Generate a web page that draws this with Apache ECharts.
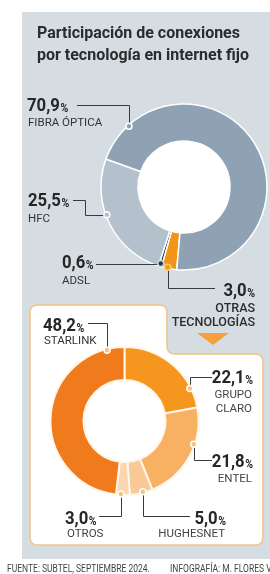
<!DOCTYPE html>
<html><head><meta charset="utf-8">
<script src="https://cdn.jsdelivr.net/npm/echarts@6/dist/echarts.min.js"></script>
<style>html,body{margin:0;padding:0;background:#fff}#c{width:270px;height:574px}</style>
</head><body><div id="c"></div>
<script>
// ---------- DATA ----------
const titleLines = ['Participación de conexiones', 'por tecnología en internet fijo'];
const techCategories = ['OTRAS\nTECNOLOGÍAS', 'ADSL', 'HFC', 'FIBRA ÓPTICA'];
const techValues = [3.0, 0.6, 25.5, 70.9];
const otherCategories = ['GRUPO\nCLARO', 'ENTEL', 'HUGHESNET', 'OTROS', 'STARLINK'];
const otherValues = [22.1, 21.8, 5.0, 3.0, 48.2];
const sourceText = 'FUENTE: SUBTEL, SEPTIEMBRE 2024.';
const creditText = 'INFOGRAFÍA: M. FLORES V.';

// ---------- STYLE / LAYOUT ----------
const techColors = ['#f29418', '#1f3b4f', '#b4c1cc', '#8fa2b4'];
const otherColors = ['#f5961e', '#f8b062', '#fac998', '#fbd6b0', '#ef7b1c'];
const P1 = {cx: 184, cy: 187, r0: 46, r1: 83, start: 265};
const P2 = {cx: 124.5, cy: 421, r0: 41, r1: 74, start: 90};
const PANEL = '#d5dde3', INK = '#262626', LINE = '#3a3a3a';

const ctx = document.createElement('canvas').getContext('2d');
function tw(t, f) { ctx.font = f; return ctx.measureText(t).width; }
const NUM_FONT = 'bold 19px Roboto', PCT_FONT = 'bold 12px Roboto', SX = 0.88;
const SUB_FONT = '11.5px Roboto';
function fmt(v) { return v.toFixed(1).replace('.', ','); }

function txt(x, base, text, font, size, fill, sx, align) {
  return {type: 'text', x: x, y: base - 0.34 * size, scaleX: sx || 1, z: 100, silent: true,
    style: {text: text, font: font, fill: fill, align: align || 'left', verticalAlign: 'middle'}};
}
function numberLabel(x, base, val, align) {
  const n = fmt(val);
  const wn = tw(n, NUM_FONT) * SX, wp = tw('%', PCT_FONT) * SX;
  const left = align === 'left' ? x : x - wn - wp - 0.5;
  return [txt(left, base, n, NUM_FONT, 19, INK, SX), txt(left + wn + 0.5, base, '%', PCT_FONT, 12, INK, SX)];
}
function subLabel(x, base, lines, align, font, size, fill) {
  return lines.map((l, i) => txt(x, base + i * 14.5, l, font || SUB_FONT, size || 11.5, fill || '#333', 1, align));
}
function line(pts) {
  return {type: 'polyline', z: 99, silent: true, shape: {points: pts}, style: {stroke: LINE, lineWidth: 1, fill: null}};
}
function dot(p, fill, stroke) {
  return {type: 'circle', z: 101, silent: true, shape: {cx: p[0], cy: p[1], r: 3}, style: {fill: fill, stroke: stroke, lineWidth: 1.5}};
}
// rounded polygon outline (decoration)
function roundPoly(v, r) {
  const out = [];
  for (let i = 0; i < v.length; i++) {
    const p = v[(i + v.length - 1) % v.length], c = v[i], n = v[(i + 1) % v.length];
    const d1 = Math.hypot(p[0] - c[0], p[1] - c[1]), d2 = Math.hypot(n[0] - c[0], n[1] - c[1]);
    const s = [c[0] + (p[0] - c[0]) / d1 * r, c[1] + (p[1] - c[1]) / d1 * r];
    const e = [c[0] + (n[0] - c[0]) / d2 * r, c[1] + (n[1] - c[1]) / d2 * r];
    for (let k = 0; k <= 6; k++) {
      const t = k / 6, u = 1 - t;
      out.push([u * u * s[0] + 2 * u * t * c[0] + t * t * e[0], u * u * s[1] + 2 * u * t * c[1] + t * t * e[1]]);
    }
  }
  return out;
}
// anchor on a slice edge, computed from the data
function anchor(P, values, idx, frac, rr) {
  const total = values.reduce((a, b) => a + b, 0);
  let acc = 0; for (let i = 0; i < idx; i++) acc += values[i];
  const a0 = P.start - acc / total * 360;
  const a1 = a0 - values[idx] / total * 360;
  const a = (a0 + (a1 - a0) * frac) * Math.PI / 180;
  const r = rr || (P.r1 - 1);
  return [P.cx + r * Math.cos(a), P.cy - r * Math.sin(a)];
}

const g = [];
// panel + box
g.push({type: 'rect', z: -10, silent: true, shape: {x: 22, y: 12, width: 260, height: 547}, style: {fill: PANEL}});
g.push({type: 'circle', z: -5, silent: true, shape: {cx: P1.cx, cy: P1.cy, r: P1.r0}, style: {fill: '#fff'}});
g.push({type: 'polygon', z: -5, silent: true,
  shape: {points: roundPoly([[30, 305], [167, 305], [167, 354], [263, 354], [263, 545], [30, 545]], 8)},
  style: {fill: '#fff', stroke: '#f2c282', lineWidth: 1.5}});
g.push({type: 'polygon', z: 100, silent: true, shape: {points: [[197, 333], [229, 333], [213, 345]]}, style: {fill: '#f4a03c'}});

// title
titleLines.forEach((t, i) => g.push(txt(37, 40 + i * 21.5, t, 'bold 17px Roboto', 17, '#2b2b2b', 0.94)));

// ---- donut 1 labels ----
let a = anchor(P1, techValues, 3, 0.11);
g.push(...numberLabel(27, 113, techValues[3], 'left'));
g.push(...subLabel(28, 127, [techCategories[3]]));
g.push(line([[77, 105.5], [Math.round(a[0]) + 0.5, 105.5], [Math.round(a[0]) + 0.5, a[1]]]));
g.push(dot(a, techColors[3], '#fff'));

a = anchor(P1, techValues, 2, 0.57);
g.push(...numberLabel(28, 208, techValues[2], 'left'));
g.push(...subLabel(28, 223, [techCategories[2]]));
g.push(line([[73, 200.5], [85.5, 200.5], [85.5, Math.round(a[1]) + 0.5], [a[0], Math.round(a[1]) + 0.5]]));
g.push(dot(a, techColors[2], '#fff'));

a = anchor(P1, techValues, 1, 0.5, 80);
g.push(...numberLabel(62, 270, techValues[1], 'left'));
g.push(...subLabel(62, 285, [techCategories[1]]));
g.push(line([[96, Math.round(a[1]) + 0.5], [a[0], Math.round(a[1]) + 0.5]]));
g.push(dot(a, techColors[1], '#cfd8df'));

a = anchor(P1, techValues, 0, 0.6);
g.push(...numberLabel(255, 298, techValues[0], 'right'));
g.push(...subLabel(255, 313, techCategories[0].split('\n'), 'right', '500 12.5px Roboto', 12.5, '#2b2b2b'));
g.push(line([[Math.round(a[0]) + 0.5, a[1]], [Math.round(a[0]) + 0.5, 288.5], [215, 288.5]]));
g.push(dot(a, techColors[0], '#f8d16a'));

// ---- donut 2 labels ----
const d2fill = '#f7c27f';
a = anchor(P2, otherValues, 4, 0.92);
g.push(...numberLabel(43, 333, otherValues[4], 'left'));
g.push(...subLabel(44, 345.5, [otherCategories[4]]));
g.push(line([[88, 323.5], [Math.round(a[0]) + 0.5, 323.5], [Math.round(a[0]) + 0.5, a[1]]]));
g.push(dot(a, d2fill, '#fff'));

a = anchor(P2, otherValues, 0, 0.8);
g.push(...numberLabel(253, 385, otherValues[0], 'right'));
g.push(...subLabel(252, 399, otherCategories[0].split('\n'), 'right', SUB_FONT, 11.5, '#444'));
g.push(line([[Math.round(a[0]) + 0.5, a[1]], [Math.round(a[0]) + 0.5, 377.5], [212, 377.5]]));
g.push(dot(a, d2fill, '#fff'));

a = anchor(P2, otherValues, 1, 0.37);
g.push(...numberLabel(253, 469, otherValues[1], 'right'));
g.push(...subLabel(252, 483, [otherCategories[1]], 'right', SUB_FONT, 11.5, '#444'));
g.push(line([[Math.round(a[0]) + 0.5, a[1]], [Math.round(a[0]) + 0.5, 460.5], [212, 460.5]]));
g.push(dot(a, d2fill, '#fff'));

a = anchor(P2, otherValues, 2, 0.42);
g.push(...numberLabel(226, 526, otherValues[2], 'right'));
g.push(...subLabel(225, 538, [otherCategories[2]], 'right', SUB_FONT, 11.5, '#444'));
g.push(line([[Math.round(a[0]) + 0.5, a[1]], [Math.round(a[0]) + 0.5, 516.5], [190, 516.5]]));
g.push(dot(a, d2fill, '#fff'));

a = anchor(P2, otherValues, 3, 0.64);
g.push(...numberLabel(65, 526, otherValues[3], 'left'));
g.push(...subLabel(67, 538, [otherCategories[3]], 'left', SUB_FONT, 11.5, '#444'));
g.push(line([[Math.round(a[0]) + 0.5, a[1]], [Math.round(a[0]) + 0.5, 516.5], [99, 516.5]]));
g.push(dot(a, d2fill, '#fff'));

// footer
g.push(txt(7, 573, sourceText, '10px Roboto', 10, '#444', 0.85));
g.push(txt(170, 573, creditText, '10px Roboto', 10, '#444', 0.85));

const chart = echarts.init(document.getElementById('c'), null, {renderer: 'canvas'});
chart.setOption({
  animation: false,
  backgroundColor: '#fff',
  series: [
    {type: 'pie', center: [P1.cx, P1.cy], radius: [P1.r0, P1.r1], startAngle: P1.start, clockwise: true,
      silent: true, z: 5, label: {show: false}, labelLine: {show: false},
      itemStyle: {borderColor: '#fff', borderWidth: 1.5},
      data: techCategories.map((n, i) => ({name: n, value: techValues[i], itemStyle: {color: techColors[i]}}))},
    {type: 'pie', center: [P2.cx, P2.cy], radius: [P2.r0, P2.r1], startAngle: P2.start, clockwise: true,
      silent: true, z: 5, label: {show: false}, labelLine: {show: false},
      itemStyle: {borderColor: '#fff6ea', borderWidth: 2},
      data: otherCategories.map((n, i) => ({name: n, value: otherValues[i], itemStyle: {color: otherColors[i]}}))}
  ],
  graphic: {elements: g}
});
</script></body></html>
